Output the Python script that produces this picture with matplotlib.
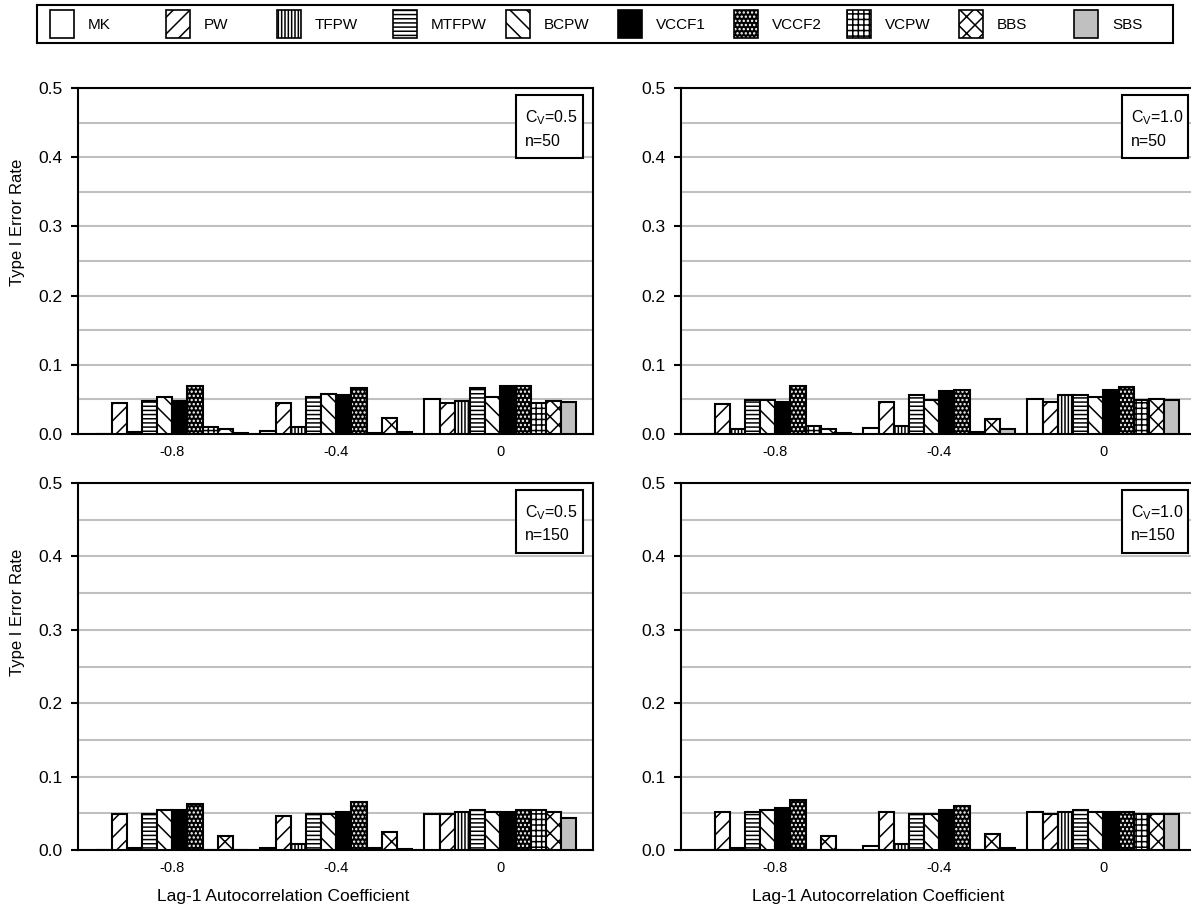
import matplotlib
matplotlib.use("Agg")
import matplotlib.pyplot as plt
from matplotlib.patches import Rectangle
import numpy as np

plt.rcParams['font.family'] = ['Liberation Sans', 'DejaVu Sans']
plt.rcParams['mathtext.fontset'] = 'custom'
plt.rcParams['mathtext.rm'] = 'Liberation Sans'
plt.rcParams['hatch.linewidth'] = 1.1

# Lag-1 autocorrelation categories and test methods
categories = ['-0.8', '-0.4', '0']
methods = ['MK', 'PW', 'TFPW', 'MTFPW', 'BCPW', 'VCCF1', 'VCCF2', 'VCPW', 'BBS', 'SBS']

# Type I error rates, one row per autocorrelation level, one column per method
cv05_n50 = [
    [0.000, 0.045, 0.003, 0.048, 0.053, 0.048, 0.070, 0.010, 0.007, 0.002],
    [0.004, 0.045, 0.010, 0.053, 0.058, 0.056, 0.067, 0.002, 0.023, 0.003],
    [0.050, 0.045, 0.048, 0.067, 0.053, 0.070, 0.070, 0.045, 0.048, 0.046],
]
cv10_n50 = [
    [0.000, 0.043, 0.007, 0.049, 0.049, 0.046, 0.070, 0.011, 0.007, 0.002],
    [0.008, 0.046, 0.011, 0.056, 0.049, 0.062, 0.064, 0.003, 0.021, 0.007],
    [0.051, 0.046, 0.056, 0.056, 0.054, 0.064, 0.068, 0.049, 0.051, 0.049],
]
cv05_n150 = [
    [0.000, 0.049, 0.003, 0.049, 0.055, 0.055, 0.062, 0.000, 0.019, 0.000],
    [0.003, 0.046, 0.008, 0.049, 0.049, 0.052, 0.065, 0.003, 0.024, 0.002],
    [0.049, 0.049, 0.052, 0.055, 0.052, 0.052, 0.055, 0.055, 0.052, 0.043],
]
cv10_n150 = [
    [0.000, 0.052, 0.003, 0.052, 0.055, 0.057, 0.068, 0.000, 0.019, 0.000],
    [0.006, 0.052, 0.008, 0.049, 0.049, 0.055, 0.060, 0.000, 0.022, 0.003],
    [0.052, 0.049, 0.052, 0.055, 0.052, 0.052, 0.052, 0.049, 0.049, 0.049],
]

panels = [
    (cv05_n50, '0.5', '50'),
    (cv10_n50, '1.0', '50'),
    (cv05_n150, '0.5', '150'),
    (cv10_n150, '1.0', '150'),
]

# fill style per method: (facecolor, hatch, hatchcolor)
styles = {
    'MK':    ('white', None, 'black'),
    'PW':    ('white', '//', 'black'),
    'TFPW':  ('white', '|||||', 'black'),
    'MTFPW': ('white', '----', 'black'),
    'BCPW':  ('white', '\\\\', 'black'),
    'VCCF1': ('black', None, 'black'),
    'VCCF2': ('black', '....', 'white'),
    'VCPW':  ('white', '+++', 'black'),
    'BBS':   ('white', 'xx', 'black'),
    'SBS':   ('#c0c0c0', None, 'black'),
}

W, H = 1191, 917
fig = plt.figure(figsize=(W / 100, H / 100), dpi=100)


def px_rect(x0, y0, x1, y1):
    return [x0 / W, 1 - y1 / H, (x1 - x0) / W, (y1 - y0) / H]


def draw_bar(ax, x, h, w, name):
    fc, hatch, hc = styles[name]
    if hatch is not None and hc != 'black':
        ax.bar(x, h, w, color=fc, edgecolor=hc, hatch=hatch, linewidth=0, zorder=3)
        ax.bar(x, h, w, fill=False, edgecolor='black', linewidth=1.5, zorder=4)
    else:
        ax.bar(x, h, w, color=fc, edgecolor='black', hatch=hatch, linewidth=1.5, zorder=3)


# panel extents in pixels: (x0, y0, x1, y1)
boxes = [
    (78, 88, 593, 434),
    (681, 88, 1196, 434),
    (78, 483, 593, 850),
    (681, 483, 1196, 850),
]
# inset label frames in pixels: (x0, y0, x1, y1)
insets = [
    (516, 95, 583, 158),
    (1122, 95, 1188, 158),
    (516, 490, 583, 553),
    (1122, 490, 1188, 553),
]

nm = len(methods)
bw = 0.0925
xpos = np.arange(len(categories))

for (data, cv, n), b, ib in zip(panels, boxes, insets):
    ax = fig.add_axes(px_rect(*b))
    vals = np.array(data)
    for j, name in enumerate(methods):
        offs = (j - (nm - 1) / 2) * bw
        for i in range(len(categories)):
            draw_bar(ax, xpos[i] + offs, vals[i, j], bw, name)
    ax.set_xlim(-0.575, 2.565)
    ax.set_ylim(0, 0.5)
    ax.set_yticks(np.arange(0, 0.51, 0.1))
    ax.set_yticklabels([f'{v:.1f}' for v in np.arange(0, 0.51, 0.1)], fontsize=12.5)
    ax.set_yticks(np.arange(0, 0.51, 0.05), minor=True)
    ax.yaxis.grid(True, which='both', color='#c0c0c0', linewidth=1.5, zorder=0)
    ax.set_axisbelow(True)
    ax.tick_params(axis='y', which='major', length=5, width=1.5, direction='out', pad=6)
    ax.tick_params(axis='y', which='minor', length=0)
    ax.set_xticks(xpos)
    ax.set_xticklabels(categories, fontsize=10.5)
    ax.tick_params(axis='x', length=0, pad=8)
    for s in ax.spines.values():
        s.set_linewidth(1.5)
        s.set_color('black')
    # inset label with the coefficient of variation and sample size
    pw, ph = b[2] - b[0], b[3] - b[1]
    fx0 = (ib[0] - b[0]) / pw
    fx1 = (ib[2] - b[0]) / pw
    fy0 = (b[3] - ib[3]) / ph
    fy1 = (b[3] - ib[1]) / ph
    ax.add_patch(Rectangle((fx0, fy0), fx1 - fx0, fy1 - fy0, transform=ax.transAxes,
                           facecolor='white', edgecolor='black', linewidth=1.5, zorder=6))
    tx = fx0 + 9 / pw
    ax.text(tx, (b[3] - (ib[1] + 23)) / ph, f'C$_{{\\mathrm{{V}}}}$={cv}', transform=ax.transAxes,
            ha='left', va='center', fontsize=11.5, zorder=7)
    ax.text(tx, (b[3] - (ib[1] + 46)) / ph, f'n={n}', transform=ax.transAxes,
            ha='left', va='center', fontsize=11.5, zorder=7)

# axis titles
for yc in (222, 612):
    fig.text(18 / W, 1 - yc / H, 'Type I Error Rate', rotation=90, ha='center', va='center', fontsize=12)
for xc in (283, 878):
    fig.text(xc / W, 1 - 897 / H, 'Lag-1 Autocorrelation Coefficient', ha='center', va='center', fontsize=12.5)

# legend strip across the top
lax = fig.add_axes(px_rect(37, 5, 1173, 43))
lax.set_xlim(37, 1173)
lax.set_ylim(43, 5)
lax.set_xticks([])
lax.set_yticks([])
for s in lax.spines.values():
    s.set_linewidth(1.5)
patch_x = [50, 166, 277, 393, 506, 618, 734, 847, 959, 1074]
for name, px in zip(methods, patch_x):
    fc, hatch, hc = styles[name]
    if hatch is not None and hc != 'black':
        lax.add_patch(Rectangle((px, 10), 24, 28, facecolor=fc, edgecolor=hc, hatch=hatch, linewidth=0))
        lax.add_patch(Rectangle((px, 10), 24, 28, fill=False, edgecolor='black', linewidth=1.2))
    else:
        lax.add_patch(Rectangle((px, 10), 24, 28, facecolor=fc, edgecolor='black', hatch=hatch, linewidth=1.2))
    lax.text(px + 38, 25, name, ha='left', va='center', fontsize=11)

fig.savefig('out.png', dpi=100)
